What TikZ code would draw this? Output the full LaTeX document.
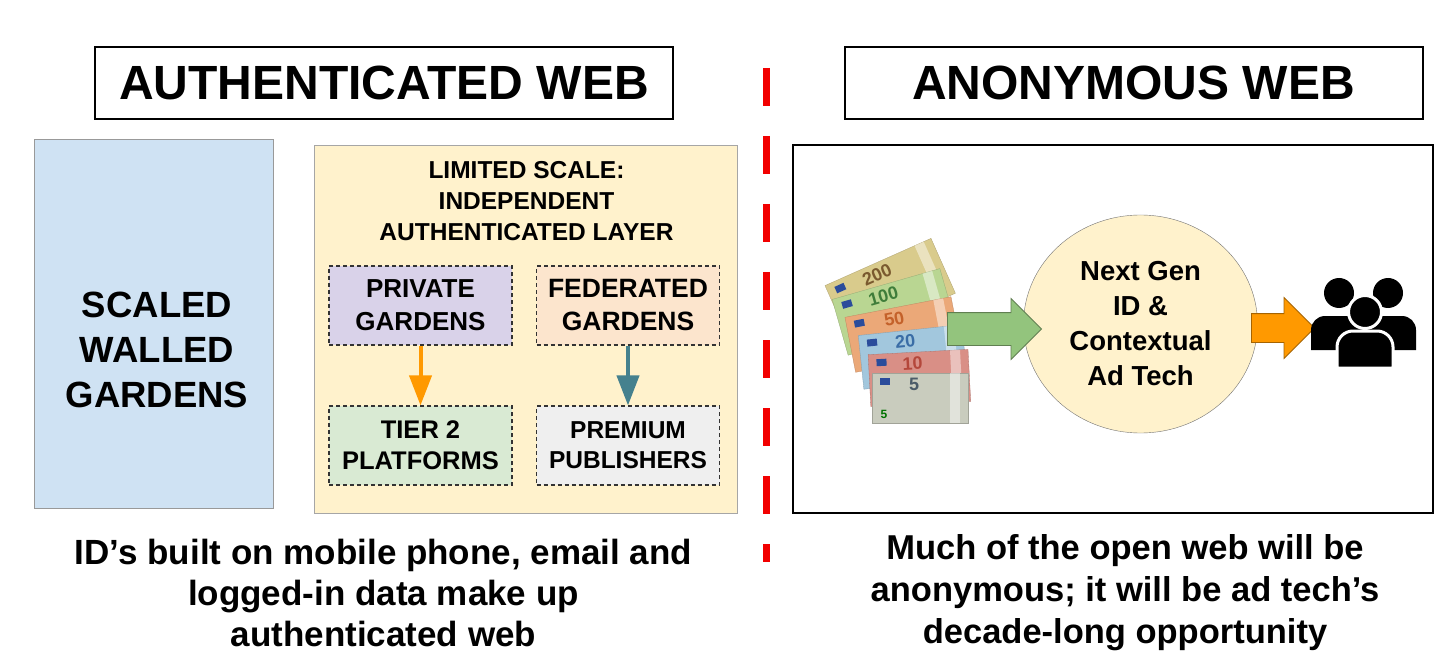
\documentclass[tikz,border=0pt]{standalone}
\usepackage{fontspec}
\setmainfont{Liberation Sans}
\usetikzlibrary{arrows.meta,shapes.geometric,shapes.arrows}

\definecolor{wallblue}{HTML}{CFE2F3}
\definecolor{layeryellow}{HTML}{FFF2CC}
\definecolor{privlilac}{HTML}{D9D2E9}
\definecolor{fedpeach}{HTML}{FCE5CD}
\definecolor{tiergreen}{HTML}{D9EAD3}
\definecolor{pubgrey}{HTML}{EFEFEF}
\definecolor{arroworange}{HTML}{FF9900}
\definecolor{arrowteal}{HTML}{45818E}
\definecolor{arrowgreen}{HTML}{93C47D}
\definecolor{splitred}{HTML}{F20000}
\definecolor{eublue}{HTML}{2B4C9B}
% banknote paper and ink
\definecolor{note5}{HTML}{C9CCBE}   \definecolor{ink5}{HTML}{4B5B68}
\definecolor{note10}{HTML}{D98F86}  \definecolor{ink10}{HTML}{B4473B}
\definecolor{note20}{HTML}{A2C7DD}  \definecolor{ink20}{HTML}{3A6DA6}
\definecolor{note50}{HTML}{EBA878}  \definecolor{ink50}{HTML}{C4612A}
\definecolor{note100}{HTML}{B9D692} \definecolor{ink100}{HTML}{3F7D3A}
\definecolor{note200}{HTML}{D9CB8C} \definecolor{ink200}{HTML}{7A5A2F}

\newcommand{\boldsize}[2]{\fontsize{#1}{#2}\selectfont\bfseries}

\tikzset{
  titlebox/.style={draw, line width=2pt, minimum width=578pt, minimum height=72pt,
    inner sep=0pt, font=\boldsize{48}{52}},
  gardenbox/.style={draw=black!80, dash pattern=on 4pt off 3pt, line width=1.1pt,
    minimum width=183pt, minimum height=79pt, inner sep=0pt, align=center},
  flowarrow/.style={line width=4pt, -{Triangle[width=22pt,length=30pt]}},
  blockarrow/.style={single arrow, draw=#1!65!black, fill=#1, line width=0.8pt,
    inner xsep=0pt, shape border rotate=0},
}

\begin{document}
\begin{tikzpicture}[x=1pt, y=-1pt]
	\useasboundingbox (0,0) rectangle (1456,668);
	\fill[white] (0,0) rectangle (1456,668);
	
	% titles
	\node[titlebox] (authtitle) at (384,83) {AUTHENTICATED WEB};
	\node[titlebox] (anontitle) at (1133.5,83) {ANONYMOUS WEB};
	
	% authenticated side
	\node[draw=black!40, fill=wallblue, minimum width=239pt, minimum height=369pt] (walled) at (153.5,323.5) {};
	\node[font=\boldsize{36.5}{45}, align=center] (walledtext) at (157,350) {SCALED\\WALLED\\GARDENS};
	
	\node[draw=black!35, fill=layeryellow, minimum width=423pt, minimum height=368pt] (layer) at (525.5,329) {};
	\node[font=\boldsize{24.5}{31}, align=center] (layertitle) at (526.5,201) {LIMITED SCALE:\\INDEPENDENT\\AUTHENTICATED LAYER};
	
	\node[gardenbox, fill=privlilac, font=\boldsize{26}{33}] (private) at (420.5,305.5) {PRIVATE\\GARDENS};
	\node[gardenbox, fill=fedpeach, font=\boldsize{26.5}{33}] (federated) at (628,305.5) {FEDERATED\\GARDENS};
	\node[gardenbox, fill=tiergreen, font=\boldsize{25.5}{31}] (tier) at (420.5,445.5) {TIER 2\\PLATFORMS};
	\node[gardenbox, fill=pubgrey, font=\boldsize{24.5}{30}] (premium) at (628,445.5) {PREMIUM\\PUBLISHERS};
	
	\draw[flowarrow, arroworange] (private) -- (tier);
	\draw[flowarrow, arrowteal] (federated) -- (premium);
	
	\node[font=\boldsize{35}{41}, align=center] (authnote) at (383.5,593) {ID’s built on mobile phone, email and\\logged-in data make up\\authenticated web};
	
	% divider
	\draw[splitred, line width=7pt, dash pattern=on 38pt off 30pt] (766,68) -- (766,562);
	
	% anonymous side
	\node[draw, line width=2pt, minimum width=640pt, minimum height=368pt] (anonbox) at (1113,329) {};
	
	% fan of banknotes
	\foreach \w/\h/\ang/\cx/\cy/\val in {116/60/24/890.2/289.4/200, 112/58/16/894/311.9/100,
		108/56/11/903.3/334.5/50, 104/54/6/912.8/356.9/20, 100/52/3/919.4/378/10, 96/50/0/920/398/5}{
		\begin{scope}[shift={(\cx,\cy)}, rotate=\ang]
			\fill[note\val, draw=note\val!80!black, line width=0.3pt] (-\w/2,-\h/2) rectangle (\w/2,\h/2);
			\fill[white, opacity=0.45] (\w/2-18,-\h/2) rectangle (\w/2-8,\h/2);
			\fill[eublue] (-\w/2+8,-\h/2+5) rectangle (-\w/2+18,-\h/2+12);
			\node[transform shape, inner sep=0pt, font=\boldsize{18}{18}, text=ink\val] (val\val) at (-6,-\h/2+11) {\val};
		\end{scope}
	}
	\node[inner sep=0pt, font=\boldsize{12}{12}, text=green!45!black] (smallfive) at (884,414) {5};
	
	\node[ellipse, draw=black!55, fill=layeryellow, minimum width=234pt, minimum height=218pt, inner sep=0pt,
		align=center, font=\boldsize{27.5}{35}] (adtech) at (1140.5,324) {Next Gen\\ID \&\\Contextual\\Ad Tech};
	
	\node[blockarrow=arrowgreen, inner ysep=16pt, single arrow head extend=14pt, minimum height=94pt, anchor=tip] (cashflow) at (1042,329) {};
	\node[blockarrow=arroworange, inner ysep=14pt, single arrow head extend=16pt, minimum height=63pt, anchor=tip] (reachflow) at (1315,328) {};
	
	% audience icon
	\foreach \px in {1339,1388}{
		\fill (\px,293) circle[radius=15];
		\fill (\px-28,350) -- (\px-28,330) arc[start angle=180, end angle=270, radius=14] -- (\px+14,316)
			arc[start angle=270, end angle=360, radius=14] -- (\px+28,350) -- cycle;
	}
	\filldraw[fill=black, draw=white, line width=3pt] (1337,368) -- (1337,347) arc[start angle=180, end angle=270, radius=16]
		-- (1377,331) arc[start angle=270, end angle=360, radius=16] -- (1393,368) -- cycle;
	\filldraw[fill=black, draw=white, line width=3pt] (1365,312) circle[radius=16.5];
	
	\node[font=\boldsize{34.5}{42}, align=center] (anonnote) at (1125,592.5) {Much of the open web will be\\anonymous; it will be ad tech’s\\decade-long opportunity};
\end{tikzpicture}
\end{document}
